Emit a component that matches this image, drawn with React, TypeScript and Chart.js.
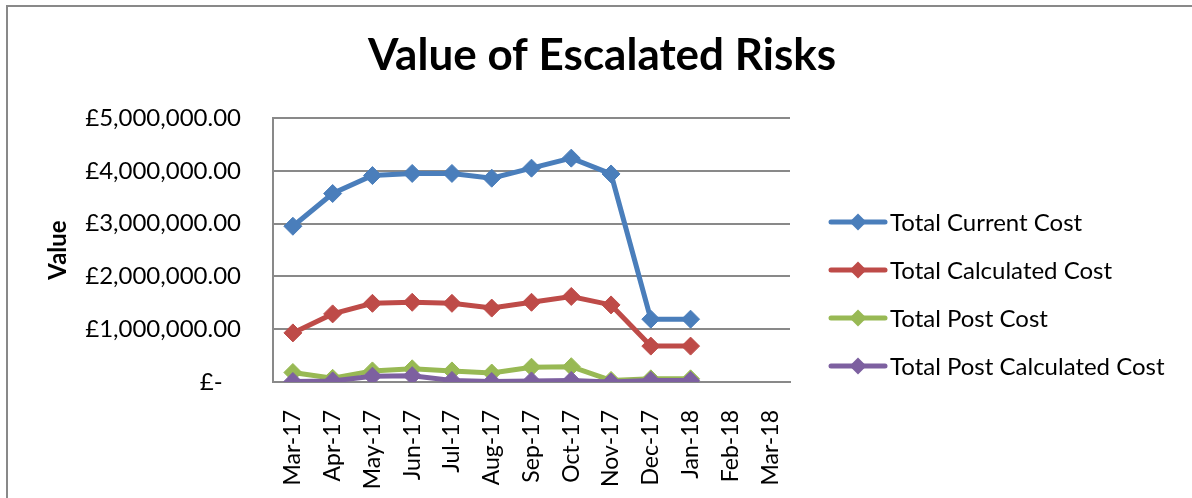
import React, { useEffect, useRef } from "react";
import { Chart, registerables } from "chart.js";

Chart.register(...registerables);

const categories = ["Mar-17", "Apr-17", "May-17", "Jun-17", "Jul-17", "Aug-17", "Sep-17", "Oct-17", "Nov-17", "Dec-17", "Jan-18", "Feb-18", "Mar-18"];
const totalCurrentCost = [2950000, 3570000, 3910000, 3950000, 3950000, 3860000, 4050000, 4240000, 3940000, 1190000, 1190000, null, null];
const totalCalculatedCost = [930000, 1290000, 1490000, 1510000, 1490000, 1400000, 1510000, 1620000, 1460000, 680000, 680000, null, null];
const totalPostCost = [180000, 70000, 210000, 250000, 210000, 170000, 280000, 290000, 30000, 60000, 60000, null, null];
const totalPostCalculatedCost = [10000, 20000, 110000, 120000, 30000, 10000, 20000, 30000, 0, 30000, 30000, null, null];
const seriesNames = ["Total Current Cost", "Total Calculated Cost", "Total Post Cost", "Total Post Calculated Cost"];
const seriesColors = ["#4A7EBB", "#BE4B48", "#98B954", "#7D60A0"];
const yTickValues = [0, 1000000, 2000000, 3000000, 4000000, 5000000];

const FONT = "Lato, 'Noto Sans', sans-serif";

function formatPounds(v: number): string {
  if (v === 0) return "£-   ";
  const s = Math.round(v).toString().replace(/\B(?=(\d{3})+(?!\d))/g, ",");
  return "£" + s + ".00";
}

const excelLegend = {
  id: "excelLegend",
  afterDraw(chart: any) {
    const ctx = chart.ctx;
    const x0 = chart.chartArea.right + 41;
    const top = 222;
    const step = 48;
    chart.data.datasets.forEach((ds: any, i: number) => {
      const y = top + i * step;
      ctx.save();
      ctx.strokeStyle = ds.borderColor;
      ctx.lineWidth = 5;
      ctx.lineCap = "round";
      ctx.beginPath();
      ctx.moveTo(x0, y);
      ctx.lineTo(x0 + 54, y);
      ctx.stroke();
      const cx = x0 + 27;
      ctx.fillStyle = ds.borderColor;
      ctx.beginPath();
      ctx.moveTo(cx, y - 8.5);
      ctx.lineTo(cx + 8.5, y);
      ctx.lineTo(cx, y + 8.5);
      ctx.lineTo(cx - 8.5, y);
      ctx.closePath();
      ctx.fill();
      ctx.fillStyle = "#000";
      ctx.font = "24px " + FONT;
      ctx.textAlign = "left";
      ctx.textBaseline = "alphabetic";
      ctx.fillText(ds.label, x0 + 59, y + 8.5);
      ctx.restore();
    });
  },
};

export default function App() {
  const canvasRef = useRef<HTMLCanvasElement | null>(null);

  useEffect(() => {
    if (!canvasRef.current) return;
    const seriesData = [totalCurrentCost, totalCalculatedCost, totalPostCost, totalPostCalculatedCost];
    const chart = new Chart(canvasRef.current, {
      type: "line",
      data: {
        labels: categories,
        datasets: seriesData.map((d, i) => ({
          label: seriesNames[i],
          data: d,
          borderColor: seriesColors[i],
          backgroundColor: seriesColors[i],
          borderWidth: 5,
          pointStyle: "rectRot",
          pointRadius: 9,
          pointHoverRadius: 9,
          pointBorderWidth: 1,
          pointBorderColor: seriesColors[i],
          pointBackgroundColor: seriesColors[i],
          tension: 0,
          order: 4 - i,
          yAxisID: "y",
        })),
      },
      options: {
        animation: false,
        responsive: true,
        maintainAspectRatio: false,
        layout: { padding: { left: 12, right: 0, top: 0, bottom: 0 } },
        plugins: {
          legend: { display: false },
          tooltip: { enabled: false },
          title: {
            display: true,
            text: "Value of Escalated Risks",
            color: "#000",
            font: { family: FONT, size: 44, weight: "bold", lineHeight: 1.2 },
            padding: { top: 29, bottom: 36.2 },
          },
        },
        scales: {
          x: {
            type: "category",
            offset: true,
            grid: { display: false },
            border: { display: true, color: "#898989", width: 2 },
            ticks: {
              autoSkip: false,
              minRotation: 90,
              maxRotation: 90,
              padding: 20,
              color: "#000",
              font: { family: FONT, size: 23 },
            },
            afterFit: (s: any) => {
              s.height = 116;
            },
          },
          y: {
            type: "linear",
            position: "left",
            min: 0,
            max: 5000000,
            afterBuildTicks: (s: any) => {
              s.ticks = yTickValues.map((v) => ({ value: v }));
            },
            grid: { color: "#898989", lineWidth: 2, drawTicks: false },
            border: { display: true, color: "#898989", width: 2 },
            ticks: {
              padding: 32,
              color: "#000",
              font: { family: FONT, size: 24 },
              callback: (v: any) => formatPounds(Number(v)),
            },
            title: {
              display: true,
              text: "Value",
              color: "#000",
              font: { family: FONT, size: 24, weight: "bold", lineHeight: 1.2 },
              padding: { top: 32, bottom: 0 },
            },
            afterFit: (s: any) => {
              s.width = 261;
            },
          },
          yRight: {
            type: "linear",
            position: "right",
            display: true,
            grid: { display: false },
            border: { display: false },
            ticks: { display: false },
            afterFit: (s: any) => {
              s.width = 402;
            },
          },
        },
      } as any,
      plugins: [excelLegend],
    });
    return () => chart.destroy();
  }, []);

  return (
    <div style={{ position: "fixed", left: 0, top: 0, width: 1192, height: 498, overflow: "hidden", background: "#fff" }}>
      <div style={{ position: "absolute", left: 6, top: 5, width: 1186, height: 2, background: "#898989" }} />
      <div style={{ position: "absolute", left: 6, top: 5, width: 2, height: 493, background: "#898989" }} />
      <div style={{ position: "absolute", left: 0, top: 0, width: 1192, height: 498 }}>
        <canvas ref={canvasRef} />
      </div>
    </div>
  );
}
